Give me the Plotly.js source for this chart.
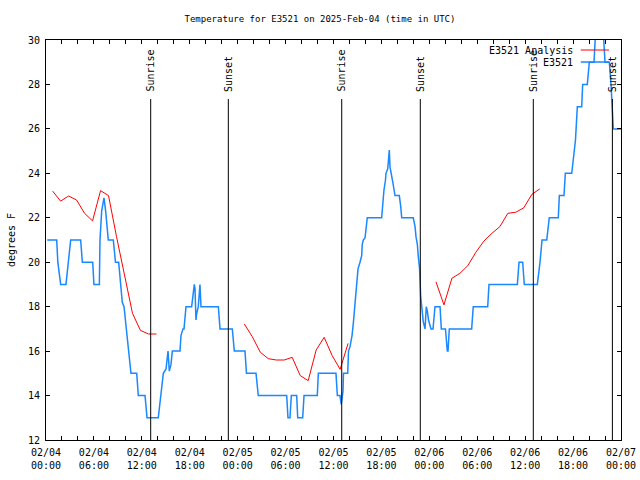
<!DOCTYPE html>
<html>
<head>
<meta charset="utf-8">
<script src="https://cdn.plot.ly/plotly-3.0.1.min.js"></script>
<style>html,body{margin:0;padding:0;background:#fff;}</style>
</head>
<body>
<div id="chart" style="width:640px;height:480px;"></div>
<script>
// Hours since 2025-02-04 00:00 UTC
const obsHours = [0.15,1.34,1.48,1.84,2.5,2.8,3.09,4.34,4.55,5.85,
  6.0,6.68,6.76,6.97,7.18,7.26,7.47,7.6,7.8,8.43,
  8.7,9.1,9.39,9.55,9.77,10.02,10.23,10.46,10.64,11.36,
  11.56,12.4,12.65,14.06,14.36,14.69,15.03,15.28,15.44,15.65,
  15.82,16.78,16.9,17.15,17.28,17.4,17.53,18.24,18.45,18.57,
  18.66,18.78,18.87,19.07,19.28,19.41,21.58,21.79,23.33,23.58,
  24.92,25.1,26.3,26.58,30.14,30.3,30.55,30.72,31.39,31.52,
  32.14,32.31,33.97,34.1,36.31,36.48,36.81,36.97,37.19,37.25,
  37.78,37.88,38.07,38.32,38.48,38.69,38.91,39.07,39.32,39.53,
  39.6,39.73,39.95,40.07,40.23,42.03,42.2,42.32,42.51,42.57,
  42.79,42.86,42.99,43.07,43.26,43.45,43.7,44.24,44.42,44.54,
  45.99,46.21,46.33,46.5,46.62,46.77,46.92,47.08,47.24,47.46,
  47.62,47.75,47.9,48.21,48.46,48.71,49.34,49.5,50.02,50.25,
  50.34,50.5,53.3,53.5,55.31,55.47,59.02,59.23,59.69,59.89,
  61.52,61.86,62.11,62.7,63.02,64.15,64.28,64.86,65.03,65.83,
  65.99,66.3,66.53,67.08,67.2,67.78,68.03,68.62,68.81,69.79,
  70.0,70.54,70.75,71.04,72.0];
const obsTempF = [21,21,20,19,19,20,21,21,20,20,
  19,19,21,22.3,22.9,22.9,22.3,21.6,21,21,
  20,20,19,18.2,18,17.2,16.3,15.7,15,15,
  14,14,13,13,14,15,15.2,16,15.1,15.4,
  16,16,16.7,17,17,17.7,18,18,18.75,19,
  18.8,17.4,17.7,18,19,18,18,17,17,16,
  16,15,15,14,14,13,13,14,14,13,
  13,14,14,15,15,14,14,13.6,14.2,15,
  15,16,16.2,16.7,17.25,18.2,19.05,19.7,20,20.3,
  20.8,21,21.1,21.56,22,22,22.77,23.25,23.7,24,
  24.2,24.75,25.05,24.3,24,23.55,23,23,22.5,22,
  22,21.6,21.15,20.8,20.25,19.75,18.45,17.8,17.33,17,
  18,17.8,17.4,17,17,18,18,17,17,16,
  16,17,17,18,18,19,19,20,20,19,
  19,20,21,21,22,22,23,23,24,24,
  24.45,25.5,27,27,28,28,29,29,30.3,30.3,
  29,29,28,26,26];

const anaHours = [0.83,1.83,2.83,3.83,4.83,5.83,6.83,7.83,8.83,9.83,10.83,11.83,12.83,13.83,
  19,
  24.83,25.83,26.83,27.83,28.83,29.83,30.83,31.83,32.83,33.83,34.83,35.83,36.83,37.83,
  43,
  48.83,49.83,50.83,51.83,52.83,53.83,54.83,55.83,56.83,57.83,58.83,59.83,60.83,61.83];
const anaTempF = [23.2,22.75,22.98,22.8,22.2,21.86,23.22,23.0,21.15,19.5,17.7,16.93,16.77,16.77,
  null,
  17.22,16.65,15.95,15.66,15.6,15.6,15.72,14.9,14.67,16.05,16.62,15.8,15.18,16.35,
  null,
  19.12,18.08,19.28,19.5,19.85,20.45,20.95,21.3,21.6,22.2,22.25,22.45,23.05,23.3];

const sunHours = [13.11, 22.83, 37.03, 46.87, 61.02, 70.92];
const sunLabels = ['Sunrise','Sunset','Sunrise','Sunset','Sunrise','Sunset'];

const xTickVals = [0,6,12,18,24,30,36,42,48,54,60,66,72];
const xTickText = ['02/04<br>00:00','02/04<br>06:00','02/04<br>12:00','02/04<br>18:00',
  '02/05<br>00:00','02/05<br>06:00','02/05<br>12:00','02/05<br>18:00',
  '02/06<br>00:00','02/06<br>06:00','02/06<br>12:00','02/06<br>18:00','02/07<br>00:00'];

const seriesNames = ['E3521 Analysis','E3521'];
const seriesColors = ['#ff0000','#1a88ff'];

const FONT = {family:'DejaVu Sans Mono, monospace', size:10, color:'#000'};
const TITLE_FONT = {family:'DejaVu Sans Mono, monospace', size:9, color:'#000'};

const traces = [
  {x: anaHours, y: anaTempF, name: seriesNames[0], type:'scatter', mode:'lines',
   connectgaps:false, line:{color:seriesColors[0], width:1}, showlegend:false, hoverinfo:'skip'},
  {x: obsHours, y: obsTempF, name: seriesNames[1], type:'scatter', mode:'lines',
   line:{color:seriesColors[1], width:1.5}, showlegend:false, hoverinfo:'skip'}
];

const shapes = [];
const annotations = [];
sunHours.forEach((h, i) => {
  shapes.push({type:'line', xref:'x', yref:'paper', x0:h, x1:h, y0:0, y1:0.8525,
    line:{color:'#000', width:1}, layer:'above'});
  annotations.push({xref:'x', yref:'paper', x:h, y:0.868, text:sunLabels[i], textangle:-90,
    showarrow:false, xanchor:'center', yanchor:'bottom', borderpad:0, font:FONT});
});
// gnuplot-style key (text left of the line sample)
const keyY = [0.975, 0.945];
seriesNames.forEach((n, i) => {
  annotations.push({xref:'paper', yref:'paper', x:0.919, y:keyY[i], text:n, showarrow:false,
    xanchor:'right', yanchor:'middle', borderpad:0, font:FONT});
  shapes.push({type:'line', xref:'paper', yref:'paper', x0:0.930, x1:0.979, y0:keyY[i], y1:keyY[i],
    line:{color:seriesColors[i], width: i === 0 ? 1 : 1.5}, layer:'above'});
});

const axisCommon = {
  showline:true, linecolor:'#000', linewidth:1, mirror:'allticks',
  ticks:'inside', ticklen:4, tickcolor:'#000', tickwidth:1,
  showgrid:false, zeroline:false, tickfont:FONT, fixedrange:true
};

const layout = {
  width:640, height:480,
  margin:{l:46, r:19, t:40, b:40, autoexpand:false},
  paper_bgcolor:'#fff', plot_bgcolor:'#fff',
  font:FONT,
  title:{text:'Temperature for E3521 on 2025-Feb-04 (time in UTC)', x:0.5, xref:'container',
    y:0.96, yref:'container', yanchor:'middle', font:TITLE_FONT},
  xaxis: Object.assign({}, axisCommon, {
    type:'linear', range:[0,72], tickmode:'array', tickvals:xTickVals, ticktext:xTickText,
    minor:{dtick:2, tick0:0, ticks:'inside', ticklen:4, tickcolor:'#000', showgrid:false},
    automargin:false, ticklabelstandoff:3
  }),
  yaxis: Object.assign({}, axisCommon, {
    range:[12,30], tick0:12, dtick:2, automargin:false, ticklabelstandoff:3,
    title:{text:'degrees F', font:FONT, standoff:10}
  }),
  shapes: shapes,
  annotations: annotations,
  showlegend:false
};

Plotly.newPlot('chart', traces, layout, {staticPlot:true, displayModeBar:false});
</script>
</body>
</html>
